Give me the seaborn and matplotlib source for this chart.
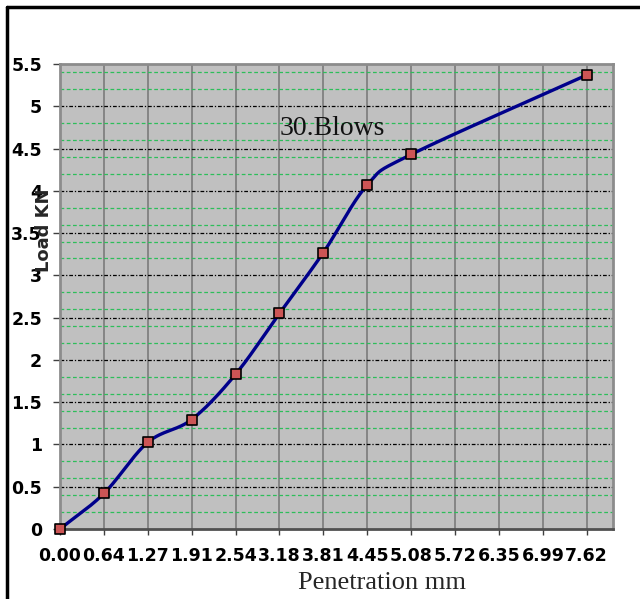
import numpy as np
import pandas as pd
import matplotlib
matplotlib.use("Agg")
import matplotlib.pyplot as plt
from matplotlib.ticker import FixedLocator, MultipleLocator, FixedFormatter
from matplotlib.lines import Line2D
import seaborn as sns

# Penetration readings (mm) and measured load (kN), 30 blows
penetration = [0.0, 0.635, 1.27, 1.905, 2.54, 3.175, 3.81, 4.445, 5.08, 7.62]
load = [0.0, 0.42, 1.025, 1.295, 1.83, 2.55, 3.27, 4.07, 4.43, 5.37]

# Tick positions along the penetration axis and their printed labels
x_ticks = [0.0, 0.635, 1.27, 1.905, 2.54, 3.175, 3.81, 4.445, 5.08, 5.715, 6.35, 6.985, 7.62]
x_tick_labels = ["0.00", "0.64", "1.27", "1.91", "2.54", "3.18", "3.81",
                 "4.45", "5.08", "5.72", "6.35", "6.99", "7.62"]
y_ticks = [0, 0.5, 1, 1.5, 2, 2.5, 3, 3.5, 4, 4.5, 5, 5.5]
y_tick_labels = ["0", "0.5", "1", "1.5", "2", "2.5", "3", "3.5", "4", "4.5", "5", "5.5"]

title_text = "30.Blows"
x_label = "Penetration mm"
y_label = "Load KN"


def smooth_curve(xs, ys, n=30):
    """Uniform Catmull-Rom spline through the points."""
    p = np.column_stack([xs, ys]).astype(float)
    p = np.vstack([2 * p[0] - p[1], p, 2 * p[-1] - p[-2]])
    out = []
    t = np.linspace(0, 1, n, endpoint=False)[:, None]
    for i in range(1, len(p) - 2):
        p0, p1, p2, p3 = p[i - 1], p[i], p[i + 1], p[i + 2]
        seg = 0.5 * ((2 * p1) + (-p0 + p2) * t
                     + (2 * p0 - 5 * p1 + 4 * p2 - p3) * t ** 2
                     + (-p0 + 3 * p1 - 3 * p2 + p3) * t ** 3)
        out.append(seg)
    out.append(p[-2][None, :])
    out = np.vstack(out)
    return out[:, 0], out[:, 1]


sns.set_theme(style="white")
plt.rcParams["font.family"] = ["DejaVu Sans"]

fig = plt.figure(figsize=(6.4, 5.99), dpi=100)
ax = fig.add_axes([60 / 640, 1 - 529 / 599, (613 - 60) / 640, (529 - 64) / 599])
ax.set_facecolor("#C0C0C0")

# Grid: solid grey verticals, black dash-dot majors and green dashed minors
ax.set_xlim(0, 8.0)
ax.set_ylim(0, 5.5)
ax.xaxis.set_major_locator(FixedLocator(x_ticks))
ax.xaxis.set_major_formatter(FixedFormatter(x_tick_labels))
ax.yaxis.set_major_locator(FixedLocator(y_ticks))
ax.yaxis.set_major_formatter(FixedFormatter(y_tick_labels))
ax.yaxis.set_minor_locator(MultipleLocator(0.2))

ax.grid(False)
for xv in x_ticks:
    ax.axvline(xv, color="#858585", lw=1.4, zorder=1)
for yv in np.arange(0.2, 5.5, 0.2):
    if abs(yv * 2 - round(yv * 2)) > 1e-6:
        ax.axhline(yv, color="#2DBE5A", lw=0.9, ls=(0, (3, 2)), zorder=1)
for yv in y_ticks[1:-1]:
    ax.axhline(yv, color="black", lw=0.9, ls=(0, (3, 1.5, 1, 1.5)), zorder=1)

sx, sy = smooth_curve(penetration, load)
curve = pd.DataFrame({"x": sx, "y": sy})
sns.lineplot(data=curve, x="x", y="y", sort=False, color="#00008B",
             lw=2.4, ax=ax, zorder=3)
pts = pd.DataFrame({"Penetration": penetration, "Load": load})
sns.scatterplot(data=pts, x="Penetration", y="Load", marker="s", s=62,
                color="#CC5555", edgecolor="black", linewidth=1.2,
                ax=ax, zorder=4, clip_on=False)

ax.set_xlabel("")
ax.set_ylabel("")

for side in ["top", "right", "left"]:
    ax.spines[side].set_color("#8C8C8C")
    ax.spines[side].set_linewidth(2.0)
ax.spines["bottom"].set_color("#505050")
ax.spines["bottom"].set_linewidth(2.0)

ax.tick_params(axis="x", which="major", direction="out", length=4, width=1,
               color="#404040", pad=9, labelsize=12.5)
ax.tick_params(axis="y", which="major", direction="out", length=5, width=1,
               color="#404040", pad=8, labelsize=12.5)
ax.tick_params(axis="y", which="minor", length=0)
ax.tick_params(bottom=True, left=True)
for lab in ax.get_xticklabels() + ax.get_yticklabels():
    lab.set_fontweight("bold")
    lab.set_color("black")

ax.text(3.17, 4.66, title_text, fontsize=20, family="Liberation Serif",
        color="#111111", va="baseline", ha="left", zorder=5)

fig.text(382 / 640, 1 - 583 / 599, x_label, fontsize=19,
         family="Liberation Serif", ha="center", va="center")
fig.text(44 / 640, 1 - 230 / 599, y_label, fontsize=13, fontweight="bold",
         rotation=90, ha="center", va="center")

# Black outer frame on the left and top edges
fig.add_artist(Line2D([7 / 640, 7 / 640], [0, 1 - 7 / 599], color="black",
                      lw=2.5, transform=fig.transFigure))
fig.add_artist(Line2D([7 / 640, 1], [1 - 7 / 599, 1 - 7 / 599], color="black",
                      lw=2.5, transform=fig.transFigure))

fig.savefig("out.png", dpi=100, facecolor="white")
